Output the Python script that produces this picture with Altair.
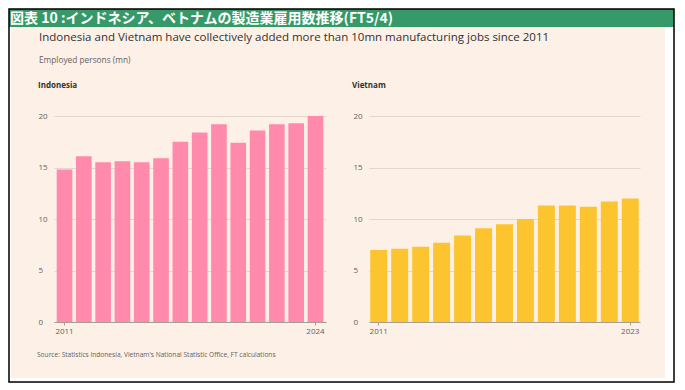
import altair as alt
import pandas as pd

# ---- data ----
indo_years = list(range(2011, 2025))
indo_values = [14.8, 16.1, 15.5, 15.6, 15.5, 15.9, 17.5, 18.4, 19.2, 17.4, 18.6, 19.2, 19.3, 20.0]
viet_years = list(range(2011, 2024))
viet_values = [7.0, 7.1, 7.3, 7.7, 8.4, 9.1, 9.5, 10.0, 11.3, 11.3, 11.2, 11.7, 12.0]
y_ticks = [0, 5, 10, 15, 20]

header_text = "図表 10 :インドネシア、ベトナムの製造業雇用数推移(FT5/4)"
subtitle_text = "Indonesia and Vietnam have collectively added more than 10mn manufacturing jobs since 2011"
unit_text = "Employed persons (mn)"
source_text = "Source: Statistics Indonesia, Vietnam's National Statistic Office, FT calculations"
panel_titles = ["Indonesia", "Vietnam"]

# ---- style ----
BEIGE = "#fdf0e6"
GREEN = "#36996a"
PINK = "#ff8aab"
YELLOW = "#fcc52f"
DARK = "#33302e"
GREY = "#66605c"
FONT = "Open Sans"

W1, W2, H = 272, 271, 206
SPACING = 43


def one(value):
    return pd.DataFrame({"t": [value]})


def text_layer(value, x, y, size, color, weight="normal", font=FONT):
    return alt.Chart(one(value)).mark_text(
        align="left", baseline="middle", fontSize=size, color=color,
        fontWeight=weight, font=font
    ).encode(x=alt.value(x), y=alt.value(y), text="t:N")


def rect_layer(x, x2, y, y2, fill=None, stroke=None, sw=0):
    kw = {}
    if fill is not None:
        kw["fill"] = fill
    else:
        kw["fillOpacity"] = 0
    if stroke is not None:
        kw["stroke"] = stroke
        kw["strokeWidth"] = sw
    return alt.Chart(one(0)).mark_rect(**kw).encode(
        x=alt.value(x), x2=alt.value(x2), y=alt.value(y), y2=alt.value(y2)
    )


def bars(years, values, color, pad_outer):
    df = pd.DataFrame({"year": years, "value": values})
    return alt.Chart(df).mark_bar(color=color).encode(
        x=alt.X(
            "year:O",
            scale=alt.Scale(paddingInner=0.19, paddingOuter=pad_outer),
            axis=alt.Axis(
                values=[years[0], years[-1]], title=None, labelAngle=0,
                labelFontSize=8, labelColor=GREY, labelFont=FONT,
                domainColor="#a69d95", tickColor="#a69d95", tickSize=3,
                labelPadding=2, grid=False,
            ),
        ),
        y=alt.Y(
            "value:Q",
            scale=alt.Scale(domain=[0, 20]),
            axis=alt.Axis(
                values=y_ticks, title=None, domain=False, ticks=False,
                labelAlign="left", labelPadding=16, labelFontSize=8,
                labelColor=GREY, labelFont=FONT, gridColor="#e3d7cc",
            ),
        ),
    )


# frame in coordinates relative to the Indonesia plot origin
FX0, FX1, FY0, FY1 = -45, 620, -107, 266
HEADER_BOTTOM = FY0 + 18

indo = alt.layer(
    rect_layer(FX0, FX1, FY0, HEADER_BOTTOM, fill=GREEN),
    rect_layer(611, FX1, HEADER_BOTTOM, FY1, fill="white"),
    rect_layer(FX0, FX0 + 2, HEADER_BOTTOM, FY1, fill="white"),
    rect_layer(FX0, FX1, 262, FY1, fill="white"),
    text_layer(header_text, -44, -97.5, 14, "white", "bold", "Noto Sans CJK JP"),
    text_layer(subtitle_text, -15, -78.5, 11.5, DARK),
    text_layer(unit_text, -15, -55.5, 8.3, GREY),
    text_layer(source_text, -17, 239, 6.6, GREY),
    text_layer(panel_titles[0], -16, -30, 8, DARK, "bold"),
    bars(indo_years, indo_values, PINK, 0.14),
    rect_layer(FX0, FX1, FY0, FY1, stroke="black", sw=1.5),
).properties(width=W1, height=H)

viet = alt.layer(
    text_layer(panel_titles[1], -17, -30, 8, DARK, "bold"),
    bars(viet_years, viet_values, YELLOW, 0.06),
).properties(width=W2, height=H)

chart = alt.hconcat(indo, viet, spacing=SPACING, bounds="flush").properties(
    padding=0, background=BEIGE
).configure_view(stroke=None)

chart.save("out.html", embed_options={"renderer": "svg", "actions": False})
